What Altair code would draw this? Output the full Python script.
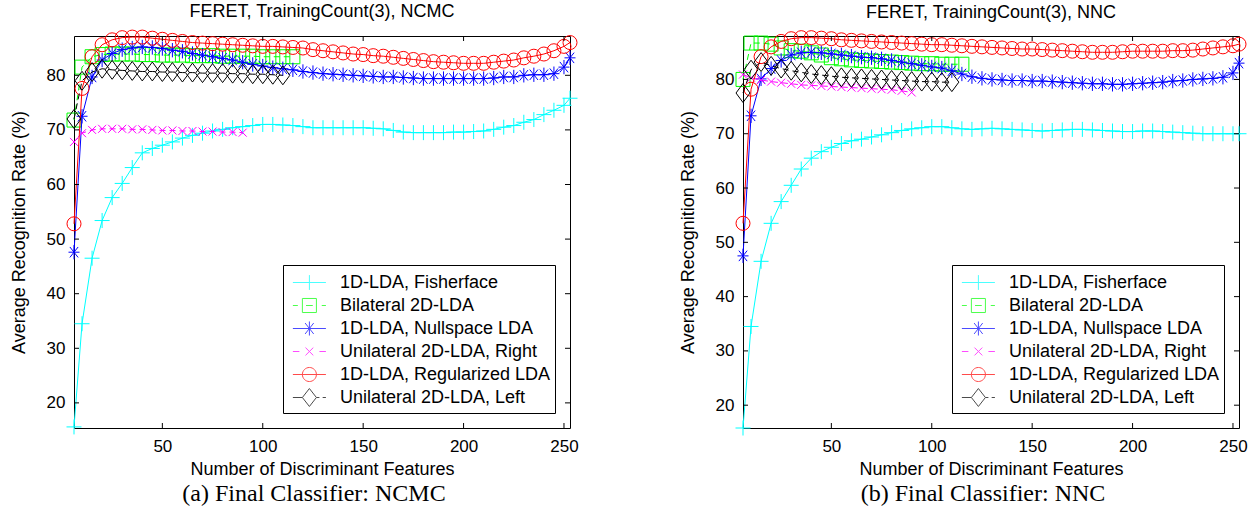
import altair as alt
import pandas as pd

# ---------------- data ----------------
X_FULL = [6, 10, 15, 20, 25, 30, 35, 40, 45, 50,
          55, 60, 65, 70, 75, 80, 85, 90, 95, 100,
          105, 110, 115, 120, 125, 130, 135, 140, 145, 150,
          155, 160, 165, 170, 175, 180, 185, 190, 195, 200,
          205, 210, 215, 220, 225, 230, 235, 240, 245, 250, 253]
X_BIL = [6, 10, 15, 20, 25, 30, 35, 40, 45, 50, 55, 60, 65, 70, 75, 80,
         85, 90, 95, 100, 105, 110, 115]
X_LEFT = [6, 10, 15, 20, 25, 30, 35, 40, 45, 50, 55, 60, 65, 70, 75, 80,
          85, 90, 95, 100, 105, 110]
X_RIGHT = [6, 10, 15, 20, 25, 30, 35, 40, 45, 50, 55, 60, 65, 70, 75, 80,
           85, 90]

METHODS = ["1D-LDA, Fisherface", "Bilateral 2D-LDA", "1D-LDA, Nullspace LDA",
           "Unilateral 2D-LDA, Right", "1D-LDA, Regularized LDA",
           "Unilateral 2D-LDA, Left"]
COLORS = ["#00ffff", "#00ff00", "#0000ff", "#ff00ff", "#ff0000", "#000000"]

# (a) NCMC
NCMC_FISHER = [15.6, 34.5, 46.5, 53.4, 57.6, 60.2, 63.1, 65.8, 66.6, 67.2,
               67.8, 68.5, 69.0, 69.4, 69.8, 70.1, 70.4, 70.6, 70.8, 71.0,
               71.0, 70.9, 70.8, 70.6, 70.4, 70.4, 70.4, 70.4, 70.4, 70.4,
               70.3, 70.2, 69.9, 69.6, 69.5, 69.5, 69.5, 69.5, 69.6, 69.6,
               69.7, 69.8, 70.1, 70.5, 70.8, 71.4, 71.9, 72.8, 73.6, 74.5, 75.8]
NCMC_BIL = [71.8, 81.5, 83.4, 83.8, 83.9, 83.9, 83.9, 83.8, 83.8, 83.7,
            83.7, 83.7, 83.6, 83.6, 83.6, 83.5, 83.5, 83.5, 83.5, 83.4,
            83.4, 83.4, 83.4]
NCMC_NULL = [47.6, 72.5, 79.7, 82.8, 84.0, 84.7, 85.0, 85.2, 85.1, 84.9,
             84.6, 84.4, 84.0, 83.7, 83.4, 83.1, 82.8, 82.4, 82.0, 81.7,
             81.4, 81.2, 81.0, 80.7, 80.5, 80.3, 80.2, 80.1, 80.0, 79.9,
             79.8, 79.7, 79.7, 79.6, 79.5, 79.4, 79.4, 79.4, 79.4, 79.4,
             79.4, 79.4, 79.5, 79.7, 79.7, 80.0, 80.1, 80.1, 80.3, 81.5, 83.2]
NCMC_RIGHT = [67.8, 69.4, 70.0, 70.2, 70.2, 70.2, 70.1, 70.1, 70.0, 69.9,
              69.9, 69.8, 69.8, 69.7, 69.7, 69.6, 69.6, 69.5]
NCMC_REG = [52.8, 77.6, 83.4, 85.6, 86.5, 86.9, 87.0, 87.0, 86.8, 86.6,
            86.4, 86.2, 86.0, 85.9, 85.8, 85.7, 85.6, 85.5, 85.4, 85.3,
            85.3, 85.2, 85.1, 85.0, 84.7, 84.5, 84.3, 84.1, 83.9, 83.8,
            83.6, 83.5, 83.3, 83.1, 82.9, 82.7, 82.5, 82.4, 82.3, 82.2,
            82.2, 82.2, 82.4, 82.6, 82.8, 83.2, 83.5, 83.9, 84.5, 85.3, 86.0]
NCMC_LEFT = [72.0, 79.0, 80.6, 81.2, 81.0, 80.9, 80.8, 80.7, 80.7, 80.6,
             80.6, 80.5, 80.5, 80.4, 80.4, 80.4, 80.3, 80.3, 80.2, 80.2,
             80.1, 80.0]

# (b) NNC
NNC_FISHER = [15.8, 34.5, 46.5, 53.5, 57.5, 60.5, 63.5, 65.5, 66.7, 67.5,
              68.2, 68.7, 69.0, 69.4, 69.8, 70.2, 70.6, 70.9, 71.1, 71.3,
              71.3, 71.1, 70.9, 70.8, 70.9, 71.0, 70.9, 70.8, 70.7, 70.6,
              70.5, 70.6, 70.7, 70.8, 70.8, 70.7, 70.6, 70.5, 70.4, 70.4,
              70.5, 70.5, 70.4, 70.3, 70.2, 70.1, 70.0, 70.0, 70.0, 70.0, 70.0]
NNC_BIL = [80.0, 86.7, 86.7, 86.5, 85.8, 85.3, 85.2, 84.9, 84.5, 84.0,
           83.8, 83.6, 83.5, 83.4, 83.3, 83.2, 83.1, 83.0, 82.9, 82.9,
           82.8, 82.8, 82.8]
NNC_NULL = [47.5, 73.3, 80.1, 82.0, 83.5, 84.5, 84.9, 85.0, 84.9, 84.7,
            84.5, 84.3, 84.1, 84.0, 83.8, 83.5, 83.2, 82.9, 82.6, 82.3,
            82.1, 81.6, 81.0, 80.5, 80.2, 80.0, 79.9, 79.8, 79.8, 79.7,
            79.7, 79.6, 79.5, 79.4, 79.3, 79.2, 79.2, 79.1, 79.1, 79.2,
            79.3, 79.4, 79.5, 79.7, 79.8, 80.0, 80.1, 80.2, 80.4, 81.2, 83.0]
NNC_RIGHT = [80.9, 80.3, 79.9, 79.6, 79.4, 79.2, 79.0, 78.9, 78.8, 78.7,
             78.6, 78.5, 78.4, 78.3, 78.2, 78.1, 77.9, 77.6]
NNC_REG = [53.5, 78.2, 84.2, 86.0, 87.0, 87.5, 87.7, 87.7, 87.6, 87.5,
           87.3, 87.2, 87.1, 87.0, 86.9, 86.8, 86.7, 86.6, 86.5, 86.4,
           86.4, 86.3, 86.2, 86.1, 86.0, 85.9, 85.8, 85.7, 85.6, 85.6,
           85.5, 85.4, 85.3, 85.2, 85.1, 85.0, 85.0, 85.0, 85.1, 85.2,
           85.2, 85.2, 85.2, 85.3, 85.3, 85.4, 85.6, 85.8, 86.0, 86.2, 86.5]
NNC_LEFT = [77.5, 81.8, 83.2, 82.5, 82.0, 81.6, 81.3, 81.0, 80.8, 80.6,
            80.4, 80.3, 80.2, 80.1, 80.0, 79.9, 79.8, 79.7, 79.6, 79.6,
            79.5, 79.5]

X_TICKS = [50, 100, 150, 200, 250]
Y_TICKS = [20, 30, 40, 50, 60, 70, 80]

TITLES = ["FERET, TrainingCount(3), NCMC", "FERET, TrainingCount(3), NNC"]
CAPTIONS = ["(a) Final Classifier: NCMC", "(b) Final Classifier: NNC"]
X_TITLE = "Number of Discriminant Features"
Y_TITLE = "Average Recognition Rate (%)"

# ---------------- styling ----------------
FONT = "Liberation Sans"
W, H = 496, 392

# marker paths (plot) and combined line+marker paths (legend)
MARKERS = ["M-1,0H1M0,-1V1",
           "M-1,-1H1V1H-1Z",
           "M-1,0H1M0,-1.3V1.3M-0.75,-0.95L0.75,0.95M-0.75,0.95L0.75,-0.95",
           "M-1,-1L1,1M-1,1L1,-1",
           "circle",
           "M0,-1.35L1,0L0,1.35L-1,0Z"]
MSIZES = [225, 196, 121, 64, 196, 196]
DASHES = [None, [6, 4], None, [6, 4], None, [6, 4]]
# legend symbols: unit = 13 px (symbolSize 676)
LEG_PATHS = [
    "M-1.27,0H1.27M0,-0.57V0.57",
    "M-1.27,0H-0.89M-0.26,0H0.26M0.95,0H1.27M-0.54,-0.54H0.54V0.54H-0.54Z",
    "M-1.27,0H1.27M0,-0.54V0.54M-0.33,-0.42L0.33,0.42M-0.33,0.42L0.33,-0.42",
    "M-1.27,0H-0.77M0.77,0H1.27M-0.3,-0.3L0.3,0.3M-0.3,0.3L0.3,-0.3",
    "M-1.27,0H1.27M0.54,0A0.54,0.54 0 1,1 -0.54,0A0.54,0.54 0 1,1 0.54,0",
    "M-1.27,0H-0.54M0.54,0H0.77M1.02,0H1.27M0,-0.69L0.54,0L0,0.69L-0.54,0Z",
]


def make_panel(title, caption, series_x, series_y, ydom):
    xscale = alt.Scale(domain=[6, 253], nice=False, zero=False)
    yscale = alt.Scale(domain=ydom, nice=False, zero=False)
    xaxis = alt.Axis(values=X_TICKS, ticks=False, domain=False, grid=False,
                     labelPadding=10, labelFont=FONT, labelFontSize=17,
                     labelColor="black", labelFlush=False, title=X_TITLE,
                     titleFont=FONT, titleFontSize=18, titleFontWeight="normal",
                     titleColor="black", titlePadding=6)
    yaxis = alt.Axis(values=Y_TICKS, ticks=False, domain=False, grid=False,
                     labelPadding=9, labelFont=FONT, labelFontSize=17,
                     labelColor="black", labelFlush=False, title=Y_TITLE,
                     titleFont=FONT, titleFontSize=18, titleFontWeight="normal",
                     titleColor="black", titlePadding=18)
    X = alt.X("x:Q", scale=xscale, axis=xaxis)
    Y = alt.Y("v:Q", scale=yscale, axis=yaxis)

    layers = []
    for xs, ys, color, dash, shape, size in zip(series_x, series_y, COLORS,
                                                 DASHES, MARKERS, MSIZES):
        assert len(xs) == len(ys)
        df = pd.DataFrame({"x": xs, "v": ys})
        kw = dict(color=color, strokeWidth=1)
        if dash:
            kw["strokeDash"] = dash
        layers.append(alt.Chart(df).mark_line(**kw).encode(x=X, y=Y))
        layers.append(alt.Chart(df).mark_point(shape=shape, size=size,
                                               filled=False, color=color,
                                               strokeWidth=1, opacity=1)
                      .encode(x=X, y=Y))

    # inward ticks on all four sides
    xt = pd.DataFrame({"x": X_TICKS})
    yt = pd.DataFrame({"v": Y_TICKS})
    layers.append(alt.Chart(xt).mark_rule(color="black", strokeWidth=1)
                  .encode(x=X, y=alt.value(H - 5), y2=alt.value(H)))
    layers.append(alt.Chart(xt).mark_rule(color="black", strokeWidth=1)
                  .encode(x=X, y=alt.value(0), y2=alt.value(5)))
    layers.append(alt.Chart(yt).mark_rule(color="black", strokeWidth=1)
                  .encode(y=Y, x=alt.value(0), x2=alt.value(5)))
    layers.append(alt.Chart(yt).mark_rule(color="black", strokeWidth=1)
                  .encode(y=Y, x=alt.value(W - 5), x2=alt.value(W)))

    # legend (drawn by the library from the scales)
    leg = alt.Legend(title=None, orient="bottom-right", offset=15, padding=4,
                     strokeColor="black", fillColor="white", cornerRadius=0,
                     labelFont=FONT, labelFontSize=18, labelColor="black",
                     symbolOffset=8.9, labelOffset=17.1, rowPadding=0,
                     symbolSize=676, symbolStrokeWidth=1, labelLimit=400)
    leg_df = pd.DataFrame({"method": METHODS})
    layers.append(
        alt.Chart(leg_df).transform_filter("false")
        .mark_point(filled=False, strokeWidth=1)
        .encode(color=alt.Color("method:N",
                                scale=alt.Scale(domain=METHODS, range=COLORS),
                                legend=leg),
                shape=alt.Shape("method:N",
                                scale=alt.Scale(domain=METHODS, range=LEG_PATHS),
                                legend=leg)))

    # caption under the panel
    cap_df = pd.DataFrame({"t": [caption]})
    layers.append(alt.Chart(cap_df).mark_text(font="Liberation Serif",
                                              fontSize=24, color="black",
                                              align="center", baseline="middle")
                  .encode(text="t:N", x=alt.value(W / 2 - 8),
                          y=alt.value(H + 66)))

    return alt.layer(*layers).properties(
        width=W, height=H,
        title=alt.TitleParams(title, font=FONT, fontSize=18,
                              fontWeight="normal", color="black",
                              anchor="middle", frame="group", offset=7))


left = make_panel(TITLES[0], CAPTIONS[0],
                  [X_FULL, X_BIL, X_FULL, X_RIGHT, X_FULL, X_LEFT],
                  [NCMC_FISHER, NCMC_BIL, NCMC_NULL, NCMC_RIGHT, NCMC_REG,
                   NCMC_LEFT],
                  [15.4, 87.2])
right = make_panel(TITLES[1], CAPTIONS[1],
                   [X_FULL, X_BIL, X_FULL, X_RIGHT, X_FULL, X_LEFT],
                   [NNC_FISHER, NNC_BIL, NNC_NULL, NNC_RIGHT, NNC_REG,
                    NNC_LEFT],
                   [15.8, 88.0])

chart = (alt.hconcat(left, right, spacing=173, bounds="flush")
         .resolve_scale(x="independent", y="independent",
                        color="independent", shape="independent")
         .resolve_legend(color="independent", shape="independent")
         .properties(padding={"left": 9, "top": 2, "right": 5, "bottom": 0},
                     background="white")
         .configure_view(stroke="black", strokeWidth=1))

chart.save("out.html", embed_options={"renderer": "svg", "actions": False})
